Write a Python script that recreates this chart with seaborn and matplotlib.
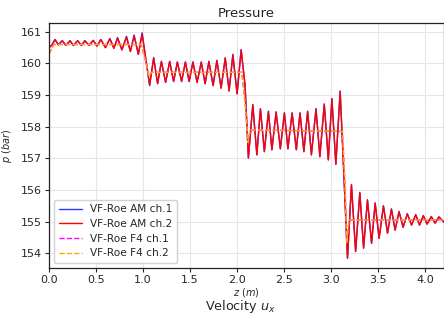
import matplotlib
matplotlib.use("Agg")
import matplotlib.pyplot as plt
import seaborn as sns
import pandas as pd

# ---- data ----
z_am = [0.0, 0.03, 0.064, 0.10, 0.141, 0.18, 0.223, 0.26, 0.305, 0.345, 0.382, 0.425,
        0.470, 0.51, 0.551, 0.60, 0.647, 0.69, 0.729, 0.775, 0.824, 0.865, 0.905, 0.95, 0.99,
        1.07, 1.113, 1.155, 1.195, 1.24, 1.283, 1.325, 1.365, 1.41, 1.450, 1.49, 1.530, 1.575,
        1.619, 1.66, 1.700, 1.745, 1.785, 1.83, 1.874, 1.915, 1.955, 2.0, 2.043, 2.085,
        2.12, 2.167, 2.21, 2.248, 2.29, 2.333, 2.37, 2.415, 2.46, 2.503, 2.54, 2.585, 2.63,
        2.669, 2.71, 2.750, 2.79, 2.839, 2.88, 2.927, 2.97, 3.008, 3.05, 3.096, 3.135,
        3.174, 3.216, 3.26, 3.305, 3.345, 3.386, 3.43, 3.468, 3.51, 3.556, 3.60, 3.641, 3.68,
        3.722, 3.765, 3.810, 3.855, 3.899, 3.94, 3.980, 4.02, 4.065, 4.105, 4.146, 4.20]

p_am2 = [160.50, 160.58, 160.75, 160.59, 160.72, 160.57, 160.72, 160.57, 160.72, 160.57, 160.72, 160.57,
         160.73, 160.55, 160.75, 160.50, 160.78, 160.48, 160.80, 160.43, 160.83, 160.38, 160.87, 160.29, 160.93,
         159.32, 160.17, 159.36, 160.06, 159.40, 160.06, 159.43, 160.04, 159.43, 160.04, 159.43, 160.04, 159.40,
         160.04, 159.36, 160.06, 159.30, 160.09, 159.22, 160.17, 159.13, 160.27, 159.04, 160.42, 159.30,
         157.02, 158.69, 157.11, 158.56, 157.21, 158.48, 157.27, 158.46, 157.30, 158.43, 157.30, 158.43, 157.27,
         158.43, 157.21, 158.48, 157.11, 158.56, 157.05, 158.71, 156.95, 158.88, 156.81, 159.11, 156.50,
         153.84, 156.16, 154.05, 155.91, 154.16, 155.68, 154.31, 155.58, 154.47, 155.49, 154.63, 155.39, 154.73,
         155.31, 154.82, 155.24, 154.89, 155.21, 154.89, 155.18, 154.92, 155.15, 154.95, 155.14, 154.98]

p_am1 = [160.50, 160.58, 160.76, 160.59, 160.72, 160.57, 160.72, 160.57, 160.72, 160.57, 160.72, 160.57,
         160.73, 160.55, 160.76, 160.50, 160.79, 160.48, 160.82, 160.43, 160.86, 160.38, 160.90, 160.29, 160.97,
         159.30, 160.19, 159.36, 160.07, 159.40, 160.07, 159.43, 160.05, 159.43, 160.05, 159.43, 160.05, 159.40,
         160.05, 159.36, 160.07, 159.30, 160.10, 159.22, 160.18, 159.13, 160.29, 159.04, 160.44, 159.30,
         157.00, 158.70, 157.11, 158.57, 157.21, 158.49, 157.27, 158.47, 157.30, 158.44, 157.30, 158.44, 157.27,
         158.44, 157.21, 158.49, 157.11, 158.57, 157.05, 158.72, 156.95, 158.89, 156.81, 159.13, 156.50,
         153.84, 156.17, 154.05, 155.92, 154.16, 155.69, 154.31, 155.59, 154.47, 155.50, 154.63, 155.40, 154.73,
         155.32, 154.82, 155.25, 154.89, 155.22, 154.89, 155.19, 154.92, 155.16, 154.95, 155.15, 154.98]

z_f4 = [0.0, 0.05, 0.98, 1.03, 1.06, 1.09, 2.05, 2.09, 2.115, 2.14, 3.12, 3.15, 3.165, 3.19, 4.20]
p_f4_1 = [160.30, 160.60, 160.60, 160.05, 159.60, 159.72, 159.72, 158.60, 157.50, 157.90, 157.85, 156.00, 154.30, 155.05, 155.05]
p_f4_2 = [160.30, 160.60, 160.60, 160.05, 159.60, 159.72, 159.72, 158.60, 157.50, 157.90, 157.85, 156.00, 154.30, 155.05, 155.05]

labels = ["VF-Roe AM ch.1", "VF-Roe AM ch.2", "VF-Roe F4 ch.1", "VF-Roe F4 ch.2"]

# ---- plot ----
sns.set_theme(style="ticks")
plt.rcParams["font.family"] = ["DejaVu Sans"]
plt.rcParams["axes.edgecolor"] = "#222222"

fig = plt.figure(figsize=(4.44, 3.15), dpi=100)
ax = fig.add_axes([49 / 444, 1 - 268 / 315, 1 - 49 / 444, (268 - 23) / 315])

sns.lineplot(x=z_am, y=p_am1, ax=ax, color="#3333ff", lw=1.0, label=labels[0], sort=False, estimator=None)
sns.lineplot(x=z_am, y=p_am2, ax=ax, color="#ff0000", lw=1.0, label=labels[1], sort=False, estimator=None)
sns.lineplot(x=z_f4, y=p_f4_1, ax=ax, color="#ff00ff", lw=1.0, ls="--", label=labels[2], sort=False, estimator=None)
sns.lineplot(x=z_f4, y=p_f4_2, ax=ax, color="#ffaa00", lw=1.0, ls="--", label=labels[3], sort=False, estimator=None)

ax.set_xlim(0, 4.2)
ax.set_ylim(153.53, 161.28)
ax.set_xticks([0.0, 0.5, 1.0, 1.5, 2.0, 2.5, 3.0, 3.5, 4.0])
ax.set_yticks([154, 155, 156, 157, 158, 159, 160, 161])
ax.tick_params(labelsize=8, length=3, width=0.8, pad=2)
ax.grid(True, color="#e6e6e6", lw=0.8)
for s in ax.spines.values():
    s.set_linewidth(0.9)

ax.set_title("Pressure", fontsize=9.5, pad=4)
ax.set_xlabel(r"$z\ (m)$", fontsize=7, labelpad=1)
ax.set_ylabel(r"$p\ (bar)$", fontsize=7, labelpad=5)

ax.legend(loc="lower left", fontsize=7.6, frameon=True, handlelength=2.2,
          labelspacing=0.45, borderaxespad=0.5, framealpha=0.9, edgecolor="#cccccc")

fig.text(240 / 444, 1 - 310 / 315, r"Velocity $u_x$", fontsize=9.2, ha="center", va="baseline")

fig.savefig("out.png", dpi=100)
